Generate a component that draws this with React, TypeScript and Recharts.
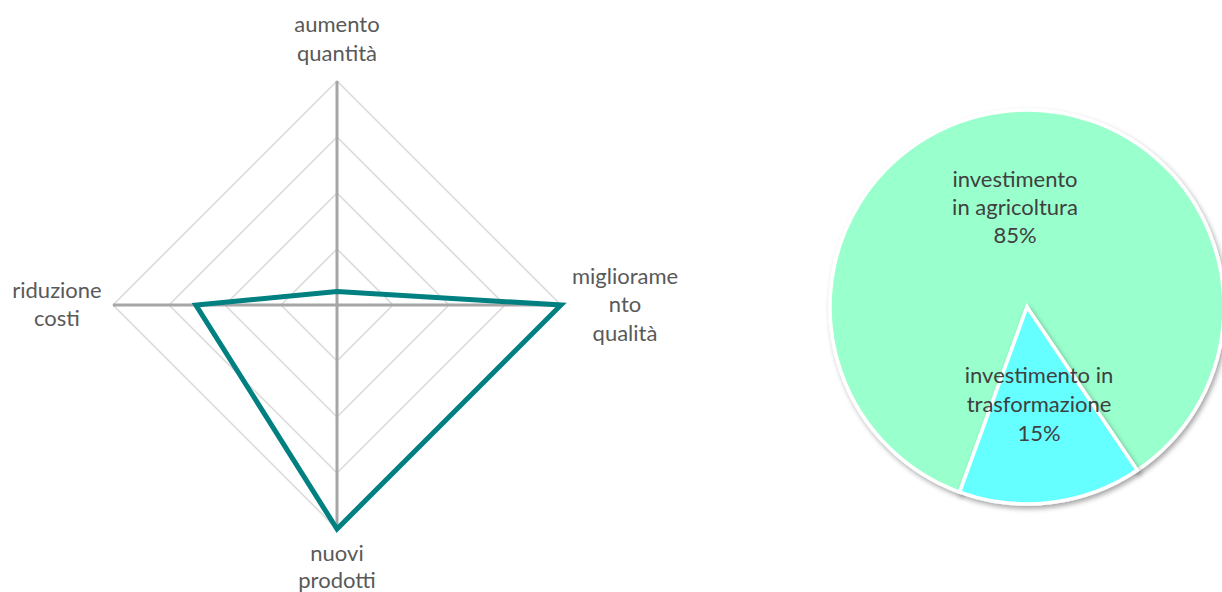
import React from "react";
import { RadarChart, Radar, PolarGrid, PolarAngleAxis, PolarRadiusAxis, PieChart, Pie, Cell } from "recharts";

const radarAxes = ["aumento quantità", "miglioramento qualità", "nuovi prodotti", "riduzione costi"];
const radarLabelLines = [["aumento", "quantità"], ["migliorame", "nto", "qualità"], ["nuovi", "prodotti"], ["riduzione", "costi"]];
const radarValues = [6, 100, 100, 63];
const radarTicks = [0, 25, 50, 75, 100];

const pieNames = ["investimento in agricoltura", "investimento in trasformazione"];
const pieLabelLines = [["investimento", "in agricoltura", "85%"], ["investimento in", "trasformazione", "15%"]];
const pieValues = [85, 15];
const pieColors = ["#99FFCC", "#66FFFF"];

const radarData = radarAxes.map((a, i) => ({ axis: a, value: radarValues[i], lines: radarLabelLines[i] }));
const pieData = pieNames.map((n, i) => ({ name: n, value: pieValues[i], lines: pieLabelLines[i] }));

const FONT = "Lato, 'Open Sans', sans-serif";
const RCX = 337;
const RCY = 305;
const RAD = Math.PI / 180;

const AngleTick = (props: any) => {
  const { x, y, payload } = props;
  const idx = radarAxes.indexOf(payload.value);
  const lines = radarLabelLines[idx] || [String(payload.value)];
  const n = lines.length;
  const dx = x - RCX;
  const dy = y - RCY;
  let ys: number[] = [];
  let tx = x;
  if (Math.abs(dx) < 1) {
    if (dy < 0) ys = lines.map((_, i) => y - 12 - (n - 1 - i) * 29);
    else ys = lines.map((_, i) => y + 24 + i * 27);
  } else {
    tx = dx > 0 ? x + 56 : x - 48;
    ys = lines.map((_, i) => y + 7 + (i - (n - 1) / 2) * 28.5);
  }
  return (
    <g>
      {lines.map((l, i) => (
        <text key={i} x={tx} y={ys[i]} textAnchor="middle" fill="#595959" fontSize={22} fontFamily={FONT}>
          {l}
        </text>
      ))}
    </g>
  );
};

const PieLabel = (props: any) => {
  const { cx, cy, midAngle, outerRadius, index } = props;
  const r = outerRadius * 0.5;
  const x = cx + r * Math.cos(-midAngle * RAD);
  const y = cy + r * Math.sin(-midAngle * RAD);
  const lines = pieLabelLines[index];
  const n = lines.length;
  const step = index === 0 ? 28 : 29;
  const base = index === 0 ? 6 : 7;
  return (
    <g>
      {lines.map((l, i) => (
        <text key={i} x={x} y={y + base + (i - (n - 1) / 2) * step} textAnchor="middle" fill="#404040" fontSize={22} fontFamily={FONT}>
          {l}
        </text>
      ))}
    </g>
  );
};

export default function App() {
  return (
    <div style={{ position: "absolute", left: 0, top: 0, width: 1222, height: 592, background: "#fff", overflow: "hidden" }}>
      <div style={{ position: "absolute", left: 0, top: 0 }}>
        <RadarChart width={700} height={592} data={radarData} cx={RCX} cy={RCY} outerRadius={224} margin={{ top: 0, right: 0, bottom: 0, left: 0 }}>
          <PolarGrid gridType="polygon" radialLines={false} stroke="#D9D9D9" strokeWidth={1.5} />
          <PolarGrid gridType="polygon" polarRadius={[]} radialLines={true} stroke="#A6A6A6" strokeWidth={3} />
          <PolarRadiusAxis domain={[0, 100]} ticks={radarTicks as any} tickCount={5} tick={false} axisLine={false} />
          <PolarAngleAxis dataKey="axis" tick={<AngleTick />} axisLine={false} tickLine={false} />
          <Radar dataKey="value" stroke="#008080" strokeWidth={5} fill="none" fillOpacity={0} dot={false} isAnimationActive={false} />
        </RadarChart>
      </div>
      <div style={{ position: "absolute", left: 800, top: 0 }}>
        <PieChart width={422} height={592} margin={{ top: 0, right: 0, bottom: 0, left: 0 }}>
          <defs>
            <filter id="pieShadow" x="-20%" y="-20%" width="140%" height="140%">
              <feDropShadow dx="2" dy="3" stdDeviation="2.5" floodColor="#000" floodOpacity="0.35" />
            </filter>
          </defs>
          <Pie
            data={pieData}
            dataKey="value"
            nameKey="name"
            cx={227}
            cy={307}
            outerRadius={197}
            startAngle={304}
            endAngle={664}
            stroke="#FFFFFF"
            strokeWidth={3.5}
            label={PieLabel}
            labelLine={false}
            isAnimationActive={false}
          >
            {pieData.map((d, i) => (
              <Cell key={d.name} fill={pieColors[i]} filter="url(#pieShadow)" />
            ))}
          </Pie>
        </PieChart>
      </div>
    </div>
  );
}
